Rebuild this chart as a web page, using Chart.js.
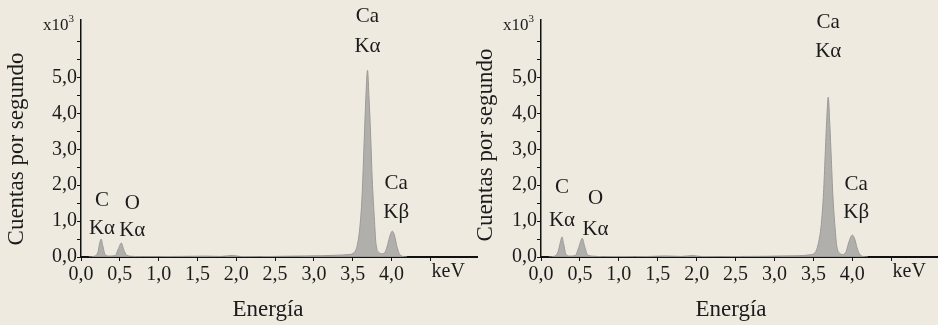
<!DOCTYPE html>
<html>
<head>
<meta charset="utf-8">
<script src="https://cdn.jsdelivr.net/npm/chart.js@4/dist/chart.umd.min.js"></script>
<style>
  html, body { margin: 0; padding: 0; background: #efeae0; }
  #wrap { position: relative; width: 938px; height: 325px; overflow: hidden; }
  canvas { position: absolute; top: 0; }
  #left { left: 0; }
  #right { left: 469px; }
</style>
</head>
<body>
<div id="wrap">
  <canvas id="left" width="480" height="325"></canvas>
  <canvas id="right" width="469" height="325"></canvas>
</div>
<script>
// ========== DATA ==========

// Left spectrum (keV, counts per second)
const leftEnergy = [0.10, 0.17, 0.22, 0.24, 0.26, 0.28, 0.31, 0.36, 0.44, 0.48, 0.52, 0.55, 0.59, 0.65, 0.80,
    1.0, 1.2, 1.4, 1.6, 1.8, 1.95, 2.05, 2.3, 2.6, 2.9, 3.1, 3.3, 3.45, 3.52, 3.56, 3.59, 3.62, 3.65, 3.67,
    3.69, 3.71, 3.73, 3.75, 3.78, 3.80, 3.84, 3.88, 3.92, 3.95, 3.98, 4.01, 4.04, 4.07, 4.10, 4.14, 4.20];
const leftCounts = [0, 20, 150, 380, 500, 320, 70, 25, 40, 220, 390, 200, 50, 20, 10,
    10, 15, 20, 25, 15, 45, 15, 10, 20, 30, 35, 50, 70, 130, 350, 800, 1700, 3400, 4500,
    5200, 4400, 3400, 2200, 1000, 350, 120, 90, 150, 350, 600, 720, 580, 280, 90, 20, 0];

// Right spectrum
const rightEnergy = [0.10, 0.17, 0.22, 0.25, 0.27, 0.29, 0.32, 0.37, 0.44, 0.49, 0.53, 0.56, 0.60, 0.66, 0.80,
    1.0, 1.2, 1.4, 1.6, 1.8, 1.95, 2.05, 2.3, 2.6, 2.9, 3.1, 3.3, 3.45, 3.52, 3.56, 3.60, 3.63, 3.65, 3.67,
    3.69, 3.71, 3.73, 3.75, 3.78, 3.80, 3.84, 3.88, 3.92, 3.95, 3.98, 4.00, 4.03, 4.06, 4.09, 4.13, 4.20];
const rightCounts = [0, 20, 150, 420, 560, 380, 80, 25, 40, 300, 520, 300, 60, 25, 10,
    15, 10, 15, 30, 15, 40, 15, 10, 15, 20, 30, 35, 60, 120, 350, 900, 1800, 2800, 3800,
    4450, 3700, 2700, 1700, 750, 300, 100, 70, 150, 380, 560, 610, 500, 260, 90, 20, 0];

// Axis ticks (marks) and which of them carry a label
const xTicks = [0, 0.5, 1.0, 1.5, 2.0, 2.5, 3.0, 3.5, 4.0, 4.5];
const xLabelMax = 4.0;
const yTicks = [0, 500, 1000, 1500, 2000, 2500, 3000, 3500, 4000, 4500, 5000, 5500, 6000];
const yLabels = [0, 1000, 2000, 3000, 4000, 5000];

// Peak labels: text + energy position
const leftPeaks = [
    { lines: ['C', 'Kα'], keV: 0.27 },
    { lines: ['O', 'Kα'], keV: 0.66 },
    { lines: ['Ca', 'Kα'], keV: 3.69 },
    { lines: ['Ca', 'Kβ'], keV: 4.06 }
];
const rightPeaks = [
    { lines: ['C', 'Kα'], keV: 0.27 },
    { lines: ['O', 'Kα'], keV: 0.70 },
    { lines: ['Ca', 'Kα'], keV: 3.69 },
    { lines: ['Ca', 'Kβ'], keV: 4.05 }
];

// ========== STYLE ==========
const SERIF = '"Liberation Serif", "DejaVu Serif", serif';
const INK = '#1b1b1b';

const fmt = v => (v / 1000).toFixed(1).replace('.', ',');
const fmtX = v => v.toFixed(1).replace('.', ',');

// rows (canvas px) for each peak label: [first line, second line]
const leftRows = [[200, 228], [203, 230], [16, 46], [183, 212]];
const rightRows = [[187, 220], [198, 229], [22, 51], [184, 212]];

const labelPlugin = {
    id: 'specLabels',
    afterDraw(chart, args, opts) {
        const ctx = chart.ctx;
        const area = chart.chartArea;
        const xs = chart.scales.x;
        ctx.save();
        ctx.fillStyle = INK;
        ctx.textAlign = 'center';
        ctx.textBaseline = 'middle';

        // peak labels
        ctx.font = '21px ' + SERIF;
        opts.peaks.forEach((p, i) => {
            const x = xs.getPixelForValue(p.keV);
            p.lines.forEach((t, j) => ctx.fillText(t, x, opts.rows[i][j]));
        });

        // x10^3
        ctx.textAlign = 'left';
        ctx.textBaseline = 'alphabetic';
        ctx.font = '17px ' + SERIF;
        const x0 = area.left - 38;
        ctx.fillText('x10', x0, 30);
        const w = ctx.measureText('x10').width;
        ctx.font = '11px ' + SERIF;
        ctx.fillText('3', x0 + w, 22);

        // keV
        ctx.textAlign = 'center';
        ctx.textBaseline = 'middle';
        ctx.font = '20px ' + SERIF;
        ctx.fillText('keV', xs.getPixelForValue(4.73), 272);

        // axis titles
        ctx.font = '23px ' + SERIF;
        ctx.fillText('Energía', opts.xTitleX, 310);
        ctx.translate(17, opts.yTitleY);
        ctx.rotate(-Math.PI / 2);
        ctx.fillText('Cuentas por segundo', 0, 0);
        ctx.restore();
    }
};

function makeChart(id, energy, counts, peaks, rows, yWidth, xTitleX, yTitleY) {
    const pts = energy.map((e, i) => ({ x: e, y: counts[i] }));
    return new Chart(document.getElementById(id), {
        type: 'line',
        data: {
            datasets: [{
                data: pts,
                borderColor: '#9a9995',
                backgroundColor: 'rgba(170,169,165,0.9)',
                borderWidth: 1,
                fill: 'origin',
                pointRadius: 0,
                cubicInterpolationMode: 'monotone'
            }]
        },
        options: {
            responsive: false,
            animation: false,
            devicePixelRatio: 1,
            layout: { padding: { top: 20, right: id === 'left' ? 3 : 0, bottom: 0, left: 0 } },
            plugins: {
                legend: { display: false },
                tooltip: { enabled: false },
                specLabels: { peaks, rows, xTitleX, yTitleY }
            },
            scales: {
                x: {
                    type: 'linear', min: 0, max: 5.1,
                    border: { color: '#111', width: 2 },
                    grid: { drawOnChartArea: false, drawTicks: true, tickLength: 4, color: '#111' },
                    ticks: {
                        autoSkip: false, maxRotation: 0, padding: 2,
                        color: INK, font: { family: SERIF, size: 20 },
                        callback: v => (v <= xLabelMax + 1e-9 ? fmtX(v) : '')
                    },
                    afterBuildTicks: s => { s.ticks = xTicks.map(v => ({ value: v })); },
                    afterFit: s => { s.height = 68; }
                },
                y: {
                    type: 'linear', min: 0, max: 6600,
                    border: { color: '#111', width: 1.5 },
                    grid: { drawOnChartArea: false, drawTicks: true, tickLength: 4, color: '#111' },
                    ticks: {
                        autoSkip: false, padding: 0,
                        color: INK, font: { family: SERIF, size: 20 },
                        callback: v => (yLabels.includes(v) ? fmt(v) : '')
                    },
                    afterBuildTicks: s => { s.ticks = yTicks.map(v => ({ value: v })); },
                    afterFit: s => { s.width = yWidth; }
                }
            }
        },
        plugins: [labelPlugin]
    });
}

makeChart('left', leftEnergy, leftCounts, leftPeaks, leftRows, 81, 268, 149);
makeChart('right', rightEnergy, rightCounts, rightPeaks, rightRows, 72, 262, 145);
</script>
</body>
</html>
